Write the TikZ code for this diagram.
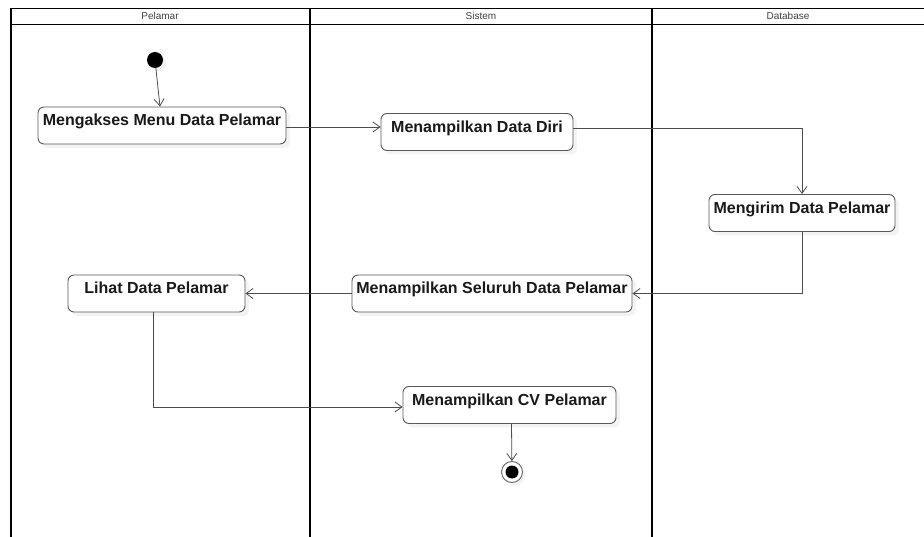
\documentclass[tikz,border=0pt]{standalone}
\usepackage{fontspec}
\setmainfont{Liberation Sans}
\usetikzlibrary{arrows.meta,shadows}
\begin{document}
\begin{tikzpicture}[x=1pt,y=-1pt,
  lane/.style={line width=1.6pt,black},
  rule/.style={line width=0.8pt,black},
  lanehead/.style={font=\fontsize{10}{11}\selectfont,text=black!75},
  act/.style={draw=black!65,line width=0.9pt,rounded corners=6pt,fill=white,
    font=\bfseries\fontsize{16}{18}\selectfont,text=black!90,
    inner xsep=2pt,inner ysep=4pt,text height=15pt,text depth=14pt,
    drop shadow={shadow xshift=4pt,shadow yshift=-4pt,fill=black!9}},
  flow/.style={draw=black!70,line width=0.8pt,-{Straight Barb[length=7pt,width=10pt]}},
  startnode/.style={circle,fill=black,minimum size=16pt,inner sep=0pt,
    drop shadow={shadow xshift=3pt,shadow yshift=-3pt,fill=black!9}},
  endnode/.style={circle,draw=black!60,line width=0.9pt,fill=white,minimum size=21pt,inner sep=0pt,
    drop shadow={shadow xshift=3pt,shadow yshift=-3pt,fill=black!9}}
]
\useasboundingbox (0,0) rectangle (924,537);

% swimlane frame
\draw[rule] (10,8) -- (924,8);
\draw[rule] (10,24) -- (924,24);
\draw[lane] (11,8) -- (11,537);
\draw[lane] (310,8) -- (310,537);
\draw[lane] (652,8) -- (652,537);
\node[lanehead] (hPel) at (160,16) {Pelamar};
\node[lanehead] (hSis) at (481,16) {Sistem};
\node[lanehead] (hDb) at (788,16) {Database};

% activities
\node[startnode] (init) at (155,60) {};
\node[act,minimum width=248pt] (A) at (162,125.5) {Mengakses Menu Data Pelamar};
\node[act,minimum width=192pt] (B) at (477,132) {Menampilkan Data Diri};
\node[act,minimum width=186pt] (C) at (802,213) {Mengirim Data Pelamar};
\node[act,minimum width=280pt] (E) at (492,293.5) {Menampilkan Seluruh Data Pelamar};
\node[act,minimum width=177pt] (D) at (156.5,293.5) {Lihat Data Pelamar};
\node[act,minimum width=213pt] (F) at (509.5,405) {Menampilkan CV Pelamar};
\node[endnode] (fin) at (512,472) {};
\fill[black] (fin.center) circle (6.5pt);

% control flow
\draw[flow] (init) -- ([xshift=-2pt]A.north);
\draw[flow] ([yshift=-1.5pt]A.east) -- ([yshift=-1.5pt]A.east -| B.west);
\draw[flow] ([yshift=4pt]B.east) -| (C.north);
\draw[flow] (C.south) |- (E.east);
\draw[flow] (E.west) -- (D.east);
\draw[flow] ([xshift=-3pt]D.south) |- ([yshift=-2pt]F.west);
\draw[flow] ([xshift=2pt]F.south) -- (fin);
\end{tikzpicture}
\end{document}
